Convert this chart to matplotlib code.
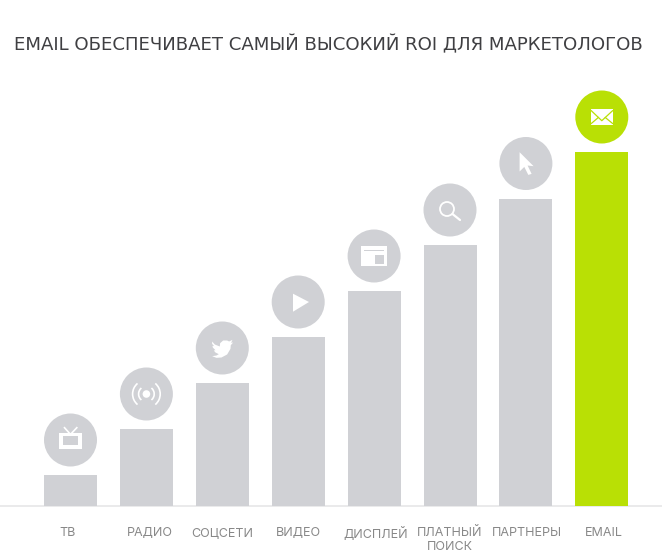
import matplotlib
matplotlib.use('Agg')
import matplotlib.pyplot as plt
import numpy as np
from matplotlib.patches import Circle, Rectangle, Polygon, Arc

title = 'EMAIL ОБЕСПЕЧИВАЕТ САМЫЙ ВЫСОКИЙ ROI ДЛЯ МАРКЕТОЛОГОВ'
labels = ['ТВ', 'РАДИО', 'СОЦСЕТИ', 'ВИДЕО', 'ДИСПЛЕЙ', 'ПЛАТНЫЙ\nПОИСК', 'ПАРТНЕРЫ', 'EMAIL']
values = [31, 77, 123, 169, 215, 261, 307.5, 354]

gray = '#d0d1d5'
green = '#b9e005'
white = 'white'

fig = plt.figure(figsize=(6.62, 5.6), dpi=100)
# one data unit is one pixel, 0 is the baseline
ax = fig.add_axes([0, 0, 1, 1])
ax.set_xlim(0, 662)
ax.set_ylim(-54, 506)
ax.axis('off')


def tv(cx, cy, c):
    ax.add_patch(Rectangle((cx - 11.7, cy - 9), 22.7, 16, color=white, lw=0, zorder=4))
    ax.add_patch(Rectangle((cx - 7.7, cy - 4.5), 15, 8.8, color=c, lw=0, zorder=5))
    ax.plot([cx - 1, cx - 6], [cy + 6.7, cy + 12.3], color=white, lw=1.2, zorder=4)
    ax.plot([cx + 1, cx + 6.3], [cy + 6.7, cy + 12.3], color=white, lw=1.2, zorder=4)


def radio(cx, cy, c):
    ax.add_patch(Circle((cx, cy), 3.8, color=white, lw=0, zorder=4))
    for r in [7.8, 13.8]:
        ax.add_patch(Arc((cx, cy), 2 * r, 2 * r, theta1=-50, theta2=50, color=white, lw=1.2, zorder=4))
        ax.add_patch(Arc((cx, cy), 2 * r, 2 * r, theta1=130, theta2=230, color=white, lw=1.2, zorder=4))


def bird(cx, cy, c):
    pts = [(337, 243), (345, 252), (360, 258), (361, 248), (370, 240), (382, 240), (388, 243),
           (398, 238), (394, 247), (400, 246), (393, 254), (392, 265), (382, 282), (365, 291),
           (350, 292), (337, 287), (350, 285), (357, 281), (347, 276), (342, 270), (347, 269),
           (339, 261), (338, 256), (343, 257), (337, 250)]
    xy = [(cx + (x - 367.5) / 3, cy + (262.5 - y) / 3) for x, y in pts]
    ax.add_patch(Polygon(xy, color=white, lw=0, zorder=4))


def play(cx, cy, c):
    ax.add_patch(Polygon([(cx - 5.2, cy + 8.3), (cx + 10.8, cy), (cx - 5.2, cy - 9.7)], color=white, lw=0, zorder=4))


def window(cx, cy, c):
    ax.add_patch(Rectangle((cx - 13.5, cy - 10), 26.7, 20, color=white, lw=0, zorder=4))
    ax.add_patch(Rectangle((cx - 10.5, cy + 5), 20.5, 1.2, color=c, lw=0, zorder=5))
    ax.add_patch(Rectangle((cx + 1, cy - 7.5), 8.7, 8.5, color=c, lw=0, zorder=5))


def search(cx, cy, c):
    ax.add_patch(Circle((cx - 3, cy + 1), 7, fc='none', ec=white, lw=1.3, zorder=4))
    ax.plot([cx + 2.5, cx + 10], [cy - 4, cy - 10], color=white, lw=1.6, solid_capstyle='round', zorder=4)


def cursor(cx, cy, c):
    pts = [(-6.3, 11.3), (7.7, -2.7), (1.7, -2), (5.7, -10.4), (2.4, -11.4), (-1.6, -3.4), (-6.3, -8)]
    ax.add_patch(Polygon([(cx + x, cy + y) for x, y in pts], color=white, lw=0, zorder=4))


def envelope(cx, cy, c):
    ax.add_patch(Rectangle((cx - 10.5, cy - 7.7), 21.3, 15.7, color=white, lw=0, zorder=4))
    ax.plot([cx - 10.5, cx, cx + 10.8], [cy + 6.3, cy - 3.7, cy + 6.3], color=c, lw=0.9, zorder=5)
    ax.plot([cx - 10.5, cx - 3.5], [cy - 6.5, cy - 0.5], color=c, lw=0.9, zorder=5)
    ax.plot([cx + 10.8, cx + 3.5], [cy - 6.5, cy - 0.5], color=c, lw=0.9, zorder=5)


icons = [tv, radio, bird, play, window, search, cursor, envelope]

x = 70.5 + 75.9 * np.arange(len(values))
colors = [gray] * 7 + [green]
label_dx = [-2.5, 3.6, 0.4, 0.5, 1.6, 0, 0.8, 2.2]

ax.axhline(0, color='#e6e6e8', lw=1.2, zorder=1)
ax.bar(x, values, width=53, color=colors, lw=0, zorder=2)

for xi, v, c, icon, lab, dx in zip(x, values, colors, icons, labels, label_dx):
    ax.add_patch(Circle((xi, v + 35), 26.5, color=c, lw=0, zorder=3))
    icon(xi, v + 35, c)
    ax.text(xi + dx, -21, lab, ha='center', va='top', fontsize=9, color='#888888',
            family='Inter', linespacing=1.25)

fig.text(328 / 662, 1 - 45 / 560, title, ha='center', va='center', fontsize=13.05,
         color='#3f3f42', family='DejaVu Sans')

fig.savefig('out.png', dpi=100, facecolor='white')
